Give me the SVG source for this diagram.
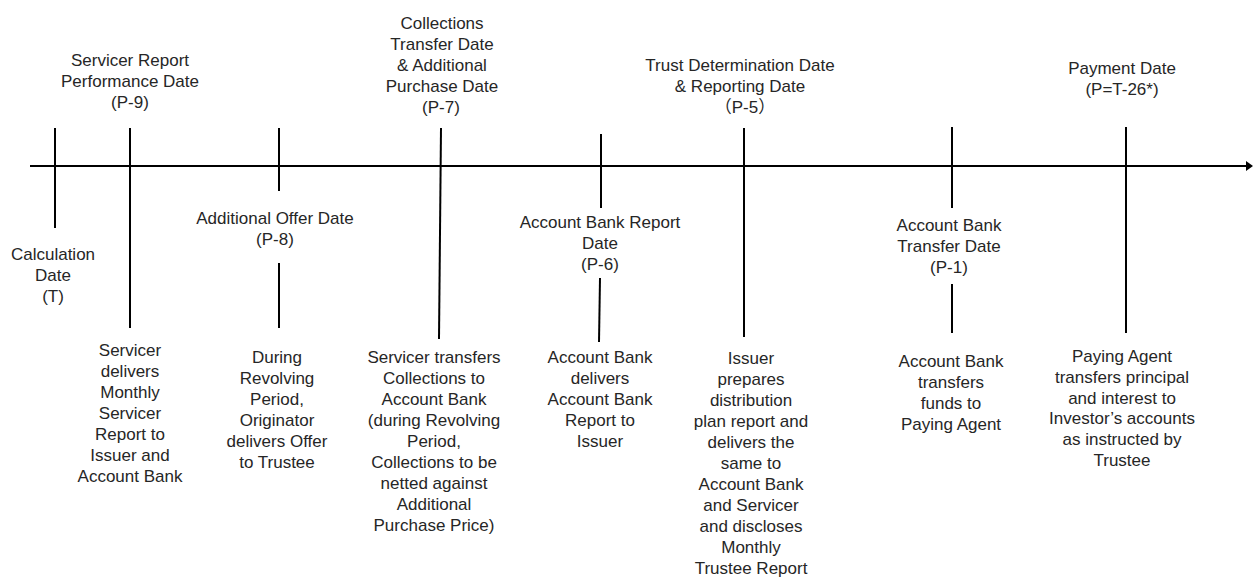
<svg xmlns="http://www.w3.org/2000/svg" width="1253" height="577" viewBox="0 0 1253 577">
<style>
  text { font-family: "Liberation Sans", Arial, "Noto Sans CJK SC", sans-serif; font-size: 17px; fill: #262626; text-anchor: middle; }
  .ln { stroke: #000; stroke-width: 2; fill: none; }
</style>
<rect width="1253" height="577" fill="#fff"/>
<g id="connectors">
  <line class="ln" x1="30" y1="166" x2="1248" y2="166"/>
  <polygon points="1246,161 1253,166 1246,171" fill="#000"/>
  <line class="ln" x1="55" y1="128" x2="55" y2="228"/>
  <line class="ln" x1="130" y1="128" x2="130" y2="328"/>
  <line class="ln" x1="279" y1="128" x2="279" y2="191"/>
  <line class="ln" x1="279" y1="263" x2="279" y2="328"/>
  <line class="ln" x1="441" y1="128" x2="439" y2="339"/>
  <line class="ln" x1="601" y1="134" x2="601" y2="208"/>
  <line class="ln" x1="600" y1="278" x2="599" y2="342"/>
  <line class="ln" x1="744" y1="128" x2="744" y2="337"/>
  <line class="ln" x1="952" y1="127" x2="952" y2="208"/>
  <line class="ln" x1="952" y1="284" x2="952" y2="333"/>
  <line class="ln" x1="1126" y1="127" x2="1126" y2="333"/>
</g>
<g id="calc-date">
  <text x="53" y="260">Calculation</text>
  <text x="53" y="281">Date</text>
  <text x="53" y="302">(T)</text>
</g>
<g id="servicer-report-date">
  <text x="130" y="66">Servicer Report</text>
  <text x="130" y="87">Performance Date</text>
  <text x="130" y="108">(P-9)</text>
</g>
<g id="servicer-report-desc">
  <text x="130" y="356">Servicer</text>
  <text x="130" y="377">delivers</text>
  <text x="130" y="398">Monthly</text>
  <text x="130" y="419">Servicer</text>
  <text x="130" y="440">Report to</text>
  <text x="130" y="461">Issuer and</text>
  <text x="130" y="482">Account Bank</text>
</g>
<g id="additional-offer-date">
  <text x="275" y="224">Additional Offer Date</text>
  <text x="275" y="245">(P-8)</text>
</g>
<g id="additional-offer-desc">
  <text x="277" y="363">During</text>
  <text x="277" y="384">Revolving</text>
  <text x="277" y="405">Period,</text>
  <text x="277" y="426">Originator</text>
  <text x="277" y="447">delivers Offer</text>
  <text x="277" y="468">to Trustee</text>
</g>
<g id="collections-date">
  <text x="442" y="29">Collections</text>
  <text x="442" y="50">Transfer Date</text>
  <text x="442" y="71">&amp; Additional</text>
  <text x="442" y="92">Purchase Date</text>
  <text x="441" y="113">(P-7)</text>
</g>
<g id="collections-desc">
  <text x="434" y="363">Servicer transfers</text>
  <text x="434" y="384">Collections to</text>
  <text x="434" y="405">Account Bank</text>
  <text x="434" y="426">(during Revolving</text>
  <text x="434" y="447">Period,</text>
  <text x="434" y="468">Collections to be</text>
  <text x="434" y="489">netted against</text>
  <text x="434" y="510">Additional</text>
  <text x="434" y="531">Purchase Price)</text>
</g>
<g id="account-bank-report-date">
  <text x="600" y="228">Account Bank Report</text>
  <text x="600" y="249">Date</text>
  <text x="600" y="270">(P-6)</text>
</g>
<g id="account-bank-report-desc">
  <text x="600" y="363">Account Bank</text>
  <text x="600" y="384">delivers</text>
  <text x="600" y="405">Account Bank</text>
  <text x="600" y="426">Report to</text>
  <text x="600" y="447">Issuer</text>
</g>
<g id="trust-determination-date">
  <text x="740" y="71">Trust Determination Date</text>
  <text x="740" y="92">&amp; Reporting Date</text>
  <text x="745" y="113">（P-5）</text>
</g>
<g id="trust-determination-desc">
  <text x="751" y="364">Issuer</text>
  <text x="751" y="385">prepares</text>
  <text x="751" y="406">distribution</text>
  <text x="751" y="427">plan report and</text>
  <text x="751" y="448">delivers the</text>
  <text x="751" y="469">same to</text>
  <text x="751" y="490">Account Bank</text>
  <text x="751" y="511">and Servicer</text>
  <text x="751" y="532">and discloses</text>
  <text x="751" y="553">Monthly</text>
  <text x="751" y="574">Trustee Report</text>
</g>
<g id="account-bank-transfer-date">
  <text x="949" y="231">Account Bank</text>
  <text x="949" y="252">Transfer Date</text>
  <text x="949" y="273">(P-1)</text>
</g>
<g id="account-bank-transfer-desc">
  <text x="951" y="367">Account Bank</text>
  <text x="951" y="388">transfers</text>
  <text x="951" y="409">funds to</text>
  <text x="951" y="430">Paying Agent</text>
</g>
<g id="payment-date">
  <text x="1122" y="74">Payment Date</text>
  <text x="1122" y="95">(P=T-26*)</text>
</g>
<g id="payment-desc">
  <text x="1122" y="362">Paying Agent</text>
  <text x="1122" y="383">transfers principal</text>
  <text x="1122" y="404">and interest to</text>
  <text x="1122" y="424">Investor’s accounts</text>
  <text x="1122" y="445">as instructed by</text>
  <text x="1122" y="466">Trustee</text>
</g>
</svg>
